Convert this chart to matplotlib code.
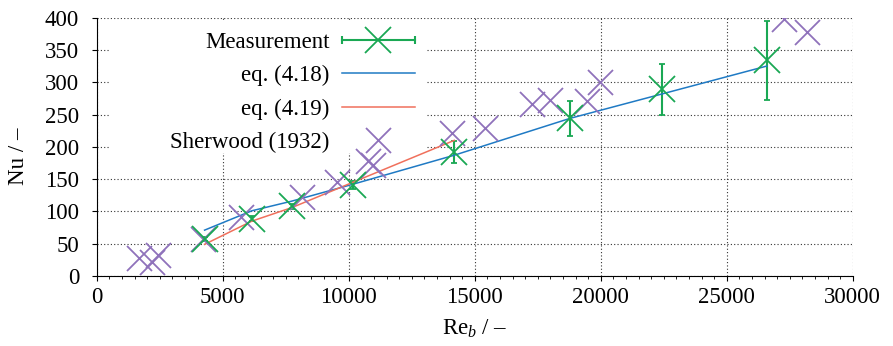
import matplotlib
matplotlib.use("Agg")
import matplotlib.pyplot as plt
from matplotlib.lines import Line2D
from matplotlib.patches import Rectangle
from matplotlib.container import ErrorbarContainer
from matplotlib.legend_handler import HandlerBase
from matplotlib.ticker import MultipleLocator

plt.rcParams["font.family"] = ["Liberation Serif", "DejaVu Serif"]
plt.rcParams["mathtext.fontset"] = "custom"
plt.rcParams["mathtext.rm"] = "Liberation Serif"
plt.rcParams["mathtext.it"] = "Liberation Serif:italic"

FS = 16.5
GREEN = "#1aa854"
BLUE = "#1f7ac4"
RED = "#f0705c"
PURPLE = "#8f72bb"

# measurement
re_meas = [4280, 6160, 7750, 10160, 14190, 18780, 22450, 26590]
nu_meas = [57, 89, 108, 141, 192, 244, 289, 334]
nu_err = [3, 4, 4, 6.5, 17, 27, 39, 61]

# correlations evaluated at the measured Re
nu_eq418 = [71, 101, 116, 142, 187, 244, 282, 325]
re_eq419 = [4280, 6160, 7750, 10160, 14190]
nu_eq419 = [49, 85, 106, 145, 210]

# Sherwood (1932)
re_sher = [1680, 2190, 2430, 4230, 5710, 8130, 9520, 10750, 10950,
           14090, 15410, 17260, 17990, 19440, 19970, 27270, 28200]
nu_sher = [28, 22, 32, 57, 91, 122, 146, 178, 172,
           221, 229, 267, 272, 271, 301, 398, 378]


class HandlerErrLine(HandlerBase):
    """gnuplot style key sample: horizontal bar with caps and the point"""

    def create_artists(self, legend, orig_handle, xdescent, ydescent,
                       width, height, fontsize, trans):
        y = height / 2 - ydescent
        x0, x1 = -xdescent, width - xdescent
        bar = Line2D([x0, x1], [y, y], color=GREEN, lw=1.5)
        caps = Line2D([x0, x1], [y, y], ls="none", marker="|", ms=6,
                      mew=1.5, color=GREEN)
        pt = Line2D([(x0 + x1) / 2], [y], ls="none", marker="x", ms=19,
                    mew=1.3, color=GREEN)
        for a in (bar, caps, pt):
            a.set_transform(trans)
        return [bar, caps, pt]


fig = plt.figure(figsize=(8.93, 3.46), dpi=100)
ax = fig.add_axes([0.1083, 0.2023, 0.8466, 0.7468])

eb = ax.errorbar(re_meas, nu_meas, yerr=nu_err, fmt="x", color=GREEN,
                 ms=19, mew=1.3, elinewidth=1.5, capsize=2.5, capthick=1.5)
l418, = ax.plot(re_meas, nu_eq418, color=BLUE, lw=1.1)
l419, = ax.plot(re_eq419, nu_eq419, color=RED, lw=1.1)
lsh, = ax.plot(re_sher, nu_sher, ls="none", marker="x", ms=18, mew=1.3,
               color=PURPLE)

ax.set_xlim(0, 30000)
ax.set_ylim(0, 400)
ax.xaxis.set_major_locator(MultipleLocator(5000))
ax.xaxis.set_minor_locator(MultipleLocator(500))
ax.yaxis.set_major_locator(MultipleLocator(50))
ax.tick_params(axis="both", which="major", direction="out", length=3.6,
               width=0.8, labelsize=FS)
ax.tick_params(axis="x", which="major", pad=4)
ax.tick_params(axis="y", which="major", pad=9)
ax.tick_params(axis="x", which="minor", direction="out", length=2, width=0.6)
for side in ("top", "right"):
    ax.spines[side].set_visible(False)
ax.grid(True, which="major", ls=(0, (1, 2)), color="#333333", lw=0.8)
ax.set_axisbelow(True)

ax.set_xlabel(r"Re$_{b}$ / –", fontsize=FS)
ax.set_ylabel("Nu / –", fontsize=FS)
ax.yaxis.set_label_coords(-0.09, 0.464)
ax.xaxis.set_label_coords(0.5, -0.16)

# opaque key area
ax.add_patch(Rectangle((0.0176, 0.476), 0.419, 0.508, transform=ax.transAxes,
                       facecolor="white", edgecolor="none", zorder=1))

leg = ax.legend([eb, l418, l419, lsh],
                ["Measurement", "eq. (4.18)", "eq. (4.19)", "Sherwood (1932)"],
                handler_map={ErrorbarContainer: HandlerErrLine()},
                loc="upper right", bbox_to_anchor=(0.421, 0.946),
                frameon=False, markerfirst=False, fontsize=FS,
                handlelength=3.2, handletextpad=0.52, labelspacing=0.54,
                borderpad=0, borderaxespad=0)
for t in leg.get_texts():
    t.set_ha("right")

fig.savefig("out.png", dpi=100)
